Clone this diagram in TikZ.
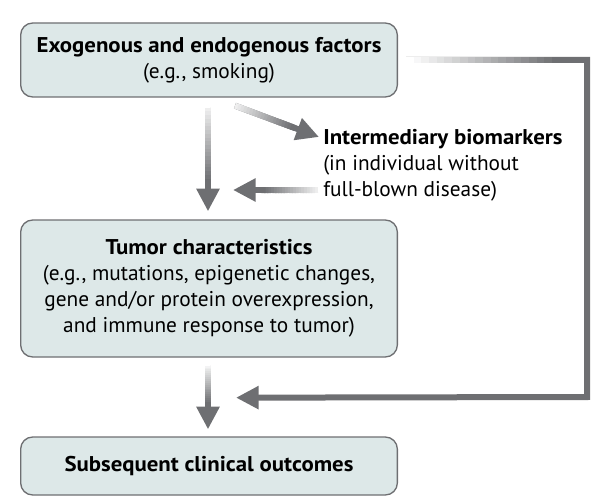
\documentclass[tikz,border=0pt]{standalone}
\usepackage{fontspec}
\setmainfont{PT Sans}[BoldFeatures={FakeStretch=1.07}]
\usetikzlibrary{arrows.meta,calc}
\definecolor{boxfill}{RGB}{221,232,232}
\definecolor{arrgray}{RGB}{110,111,114}
\tikzset{box/.style={draw=arrgray, line width=1pt, fill=boxfill,
   rounded corners=9pt, minimum width=282.5pt, align=center,
   font=\fontsize{16}{19.5}\selectfont},
 shaft/.style={draw=arrgray, line width=4.5pt},
 tip/.style={-{Triangle[length=17pt,width=16.5pt]}},
 }
% light-to-dark overlay on a shaft: #1 start, #2 end, #3 first shade, #4 part covered
\newcommand{\fadeshaft}[4]{%
  \foreach \k in {0,...,19}{%
    \pgfmathsetmacro\pa{\k/20*#4}%
    \pgfmathsetmacro\pb{(\k+1.5)/20*#4}%
    \pgfmathsetmacro\pc{#3+(100-#3)*\k/19}%
    \draw[shaft, draw=arrgray!\pc!white] ($#1!\pa!#2$) -- ($#1!\pb!#2$);
  }}

\begin{document}
\begin{tikzpicture}[x=0.75pt,y=-0.75pt]
        \useasboundingbox (0,0) rectangle (600,503);
        % boxes
        \node[box, minimum height=55.5pt] (exo) at (209,60)
            {\textbf{Exogenous and endogenous factors}\\(e.g., smoking)};
        \node[box, minimum height=102.75pt] (tumor) at (209,288.5)
            {\textbf{Tumor characteristics}\\(e.g., mutations, epigenetic changes,\\
             gene and/or protein overexpression,\\and immune response to tumor)};
        \node[box, minimum height=43.5pt] (outcome) at (209,466)
            {\textbf{Subsequent clinical outcomes}};
        \node[anchor=west, align=left, inner sep=0pt,
              font=\fontsize{16}{19.5}\selectfont] (inter) at (323,165)
            {\textbf{Intermediary biomarkers}\\(in individual without\\full-blown disease)};
        % connector ends
        \coordinate (a1s) at ($(exo.south)+(-1,10)$);
        \coordinate (a1e) at ($(tumor.north)+(-1,-8)$);
        \coordinate (a2s) at ($(exo.south)+(26,8)$);
        \coordinate (a2e) at ($(inter.west)+(-4,-28)$);
        \coordinate (a3s) at ($(inter.west)+(-5,25)$);
        \coordinate (a3e) at ($(inter.west)+(-90,25)$);
        \coordinate (a4s) at ($(tumor.south)+(-1,8)$);
        \coordinate (a4e) at ($(outcome.north)+(-1,-7)$);
        \coordinate (a5s) at ($(exo.east)+(8,0)$);
        \coordinate (c1) at (587,60);
        \coordinate (c2) at (587,397);
        \coordinate (a5e) at ($(tumor.south)+(27,40)$);
        % arrows
        \draw[shaft, tip] (a1s) -- (a1e);
        \draw[shaft, tip] (a2s) -- (a2e);
        \draw[shaft, tip] (a3s) -- (a3e);
        \draw[shaft, tip] (a4s) -- (a4e);
        \draw[shaft, tip] (a5s) -- (c1) -- (c2) -- (a5e);
        \fadeshaft{(a1s)}{(a1e)}{12}{0.72}
        \fadeshaft{(a2s)}{(a2e)}{12}{0.7}
        \fadeshaft{(a3s)}{(a3e)}{12}{0.65}
        \fadeshaft{(a4s)}{(a4e)}{8}{0.6}
        \fadeshaft{(a5s)}{(c1)}{0}{0.85}
    \end{tikzpicture}
\end{document}
